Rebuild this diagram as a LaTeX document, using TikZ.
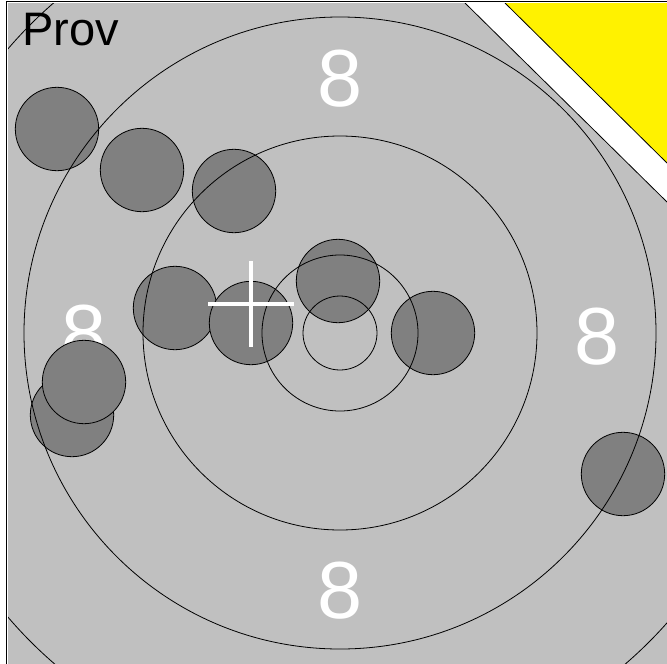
\documentclass[tikz,border=0pt]{standalone}
\usepackage{fontspec}
\setmainfont{Liberation Sans}
\usetikzlibrary{positioning}

\definecolor{targetgray}{HTML}{C0C0C0}
\definecolor{shotgray}{HTML}{808080}

\begin{document}
\begin{tikzpicture}[x=1pt,y=-1pt,
    shot/.style={circle, draw=black, fill=shotgray, line width=0.8pt, minimum size=83.4pt, inner sep=0pt},
    ring/.style={draw=black, line width=0.8pt},
    score/.style={white, inner sep=0pt, font=\fontsize{81}{81}\selectfont}]
    \useasboundingbox (0,0) rectangle (667,664);
    \fill[targetgray] (8,3) rectangle (667,664);
    \begin{scope}
        \clip (8,3) rectangle (667,664);
        \coordinate (centre) at (340,333);
        % Ring numbers
        \node[score] (n-top) at (340,79) {8};
        \node[score] (n-bottom) at (340,591) {8};
        \node[score] (n-left) at (84,334) {8};
        \node[score] (n-right) at (597,337) {8};
        % Shots
        \foreach \x/\y [count=\i] in {57/129, 142/170, 234/191, 175/308, 251/323,
                                      338/281, 433/333, 72/415, 84/382, 623/474} {
            \node[shot] (shot\i) at (\x,\y) {};
        }
        % Rings
        \foreach \r in {37,78,197,316,437} {
            \draw[ring] (centre) circle[radius=\r];
        }
        % Crosshair
        \coordinate (aim) at (251,304);
        \draw[white, line width=4.5pt] ([xshift=-43pt]aim) -- ([xshift=43pt]aim);
        \draw[white, line width=4.5pt] ([yshift=-43pt]aim) -- ([yshift=43pt]aim);
        % Corner band
        \fill[white] (465,3) -- (667,3) -- (667,202) -- cycle;
        \draw[line width=0.8pt] (465,3) -- (667,202);
        \fill[yellow] (505,3) -- (667,3) -- (667,163) -- cycle;
        \draw[line width=0.8pt] (505,3) -- (667,163);
    \end{scope}
    % Frame
    \draw[line width=1.5pt] (6.5,664) -- (6.5,1.5) -- (667,1.5);
    \node[anchor=base west, inner sep=0pt, font=\fontsize{47}{47}\selectfont] (prov) at (22,45) {Prov};
\end{tikzpicture}
\end{document}
